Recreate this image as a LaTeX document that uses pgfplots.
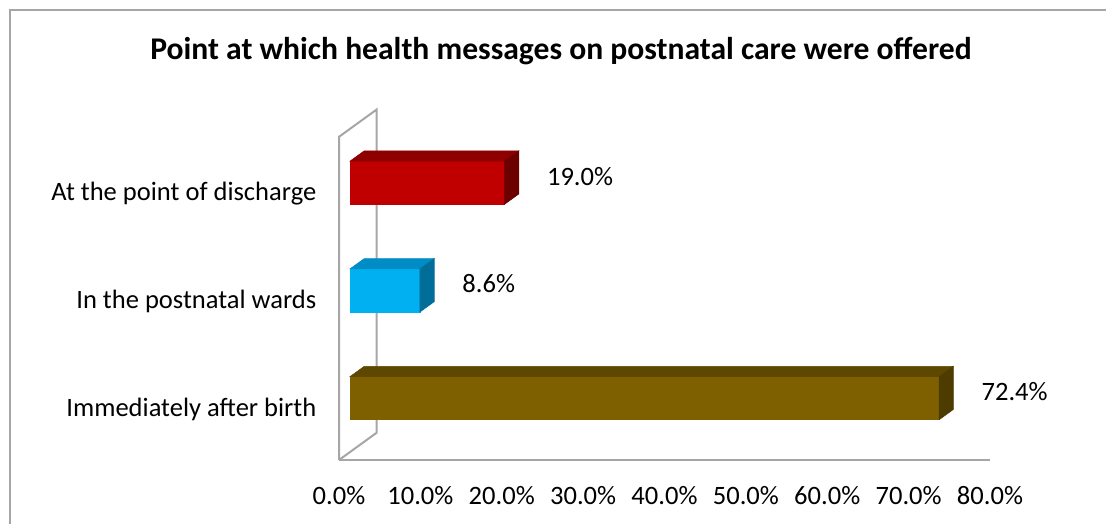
\documentclass[border=0pt]{standalone}
\usepackage{fontspec}
\setmainfont{Carlito}
\usepackage{pgfplots}
\pgfplotsset{compat=1.18}
\definecolor{redF}{HTML}{C00000}
\definecolor{redT}{HTML}{8E0000}
\definecolor{redS}{HTML}{6C0000}
\definecolor{bluF}{HTML}{00B0F0}
\definecolor{bluT}{HTML}{008CC4}
\definecolor{bluS}{HTML}{006E98}
\definecolor{brnF}{HTML}{7F6000}
\definecolor{brnT}{HTML}{5E4700}
\definecolor{brnS}{HTML}{4E3B00}
\definecolor{axgray}{HTML}{A6A6A6}
\begin{document}
\begin{tikzpicture}
\useasboundingbox (0,0) rectangle (829.5pt,-393pt);
\draw[color=axgray, line width=1.5pt] (7.5pt,-420pt) -- (7.5pt,-7.5pt) -- (850pt,-7.5pt);
\node[font=\fontsize{23.7}{28}\selectfont\bfseries] at (420.75pt,-38.5pt) {Point at which health messages on postnatal care were offered};
\begin{axis}[
 at={(254.25pt,-345pt)}, anchor=origin,
 x={(6.103pt,0pt)}, y={(28.28pt,20.48pt)}, z={(0pt,80.8pt)},
 xmin=0,xmax=80,ymin=0,ymax=1,zmin=0,zmax=3,
 axis lines=left,
 axis line style={-, draw=axgray, line width=1.5pt},
 y axis line style={draw=none},
 clip=false,
 xtick={0,10,...,80},
 xticklabels={0.0\%,10.0\%,20.0\%,30.0\%,40.0\%,50.0\%,60.0\%,70.0\%,80.0\%},
 ytick=\empty,
 ztick={0.5,1.5,2.5},
 zticklabels={Immediately after birth, In the postnatal wards, At the point of discharge},
 major tick length=0pt,
 tick label style={font=\fontsize{19.9}{24}\selectfont},
 xticklabel style={anchor=north, yshift=-16pt},
 zticklabel style={anchor=east, xshift=-13.5pt, yshift=-2.5pt},
]
\addplot3[draw=axgray, line width=1.5pt] coordinates {(0,0,0) (0,1,0) (0,1,3) (0,0,3) (0,0,0)};
% red: At the point of discharge
\addplot3[fill=redF, draw=redF] coordinates {(0,0.29,2.3) (19.0,0.29,2.3) (19.0,0.29,2.7) (0,0.29,2.7)} -- cycle;
\addplot3[fill=redT, draw=redT] coordinates {(0,0.29,2.7) (19.0,0.29,2.7) (19.0,0.67,2.7) (0,0.67,2.7)} -- cycle;
\addplot3[fill=redS, draw=redS] coordinates {(19.0,0.29,2.3) (19.0,0.67,2.3) (19.0,0.67,2.7) (19.0,0.29,2.7)} -- cycle;
% blue: In the postnatal wards
\addplot3[fill=bluF, draw=bluF] coordinates {(0,0.29,1.3) (8.6,0.29,1.3) (8.6,0.29,1.7) (0,0.29,1.7)} -- cycle;
\addplot3[fill=bluT, draw=bluT] coordinates {(0,0.29,1.7) (8.6,0.29,1.7) (8.6,0.67,1.7) (0,0.67,1.7)} -- cycle;
\addplot3[fill=bluS, draw=bluS] coordinates {(8.6,0.29,1.3) (8.6,0.67,1.3) (8.6,0.67,1.7) (8.6,0.29,1.7)} -- cycle;
% brown: Immediately after birth
\addplot3[fill=brnF, draw=brnF] coordinates {(0,0.29,0.3) (72.4,0.29,0.3) (72.4,0.29,0.7) (0,0.29,0.7)} -- cycle;
\addplot3[fill=brnT, draw=brnT] coordinates {(0,0.29,0.7) (72.4,0.29,0.7) (72.4,0.67,0.7) (0,0.67,0.7)} -- cycle;
\addplot3[fill=brnS, draw=brnS] coordinates {(72.4,0.29,0.3) (72.4,0.67,0.3) (72.4,0.67,0.7) (72.4,0.29,0.7)} -- cycle;
% data labels
\addplot3[draw=none, mark=none, nodes near coords, point meta=explicit symbolic,
  every node near coord/.append style={anchor=west, xshift=23pt, yshift=1pt, font=\fontsize{19.9}{24}\selectfont, text=black}]
  coordinates {(19.0,0.48,2.5) [19.0\%] (8.6,0.48,1.5) [8.6\%] (72.4,0.48,0.5) [72.4\%]};
\end{axis}
\end{tikzpicture}
\end{document}
